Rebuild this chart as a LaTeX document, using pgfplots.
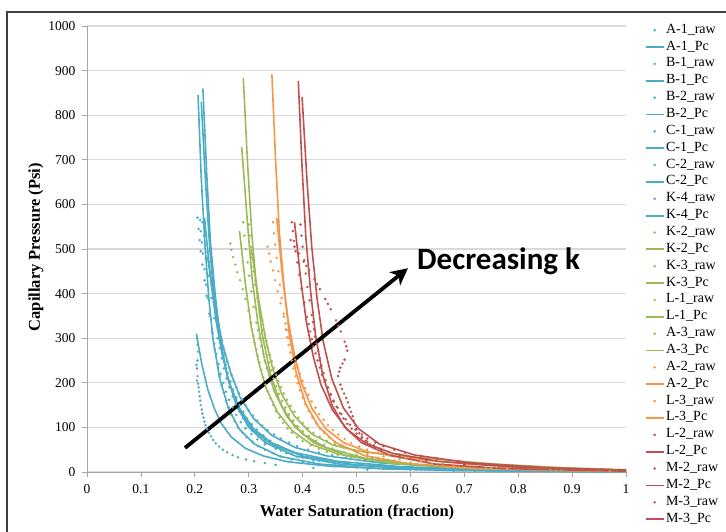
\documentclass[border=0pt]{standalone}
\usepackage{pgfplots}
\pgfplotsset{compat=1.18}
\usepackage{fontspec}
\setmainfont{Liberation Serif}
\newfontfamily\calibri{Carlito}
\usetikzlibrary{arrows.meta}
\definecolor{cblue}{HTML}{4BACC6}
\definecolor{cgreen}{HTML}{9BBB59}
\definecolor{corange}{HTML}{F79646}
\definecolor{cred}{HTML}{C0504D}
\pgfplotsset{
  raw/.style={only marks, mark=*, mark size=1.05pt, color=#1, draw=#1, fill=#1},
  pc/.style={line width=1.6pt, mark=none, color=#1, draw=#1,
    legend image code/.code={\draw[draw=#1, line width=1.8pt] (0pt,0pt) -- (18pt,0pt);}},
}
\begin{document}
\begin{tikzpicture}
\useasboundingbox (0pt,0pt) rectangle (726pt,-532pt);
\begin{axis}[
  at={(87pt,-472pt)}, anchor=south west,
  scale only axis, width=539pt, height=446pt,
  xmin=0, xmax=1, ymin=0, ymax=1000,
  axis x line*=bottom, axis y line*=left,
  axis line style={black!35, line width=1pt, -},
  xtick={0,0.1,0.2,0.3,0.4,0.5,0.6,0.7,0.8,0.9,1},
  xticklabels={0,0.1,0.2,0.3,0.4,0.5,0.6,0.7,0.8,0.9,1},
  ytick={0,100,200,300,400,500,600,700,800,900,1000},
  yticklabels={0,100,200,300,400,500,600,700,800,900,1000},
  tick align=outside, major tick length=5pt,
  tick style={black!35, line width=0.8pt},
  ymajorgrids, grid style={black!15, line width=1.2pt},
  ticklabel style={font=\fontsize{13.5}{14}\selectfont},
  xticklabel style={yshift=-4pt},
  yticklabel style={xshift=-3pt},
  xlabel={\textbf{Water Saturation (fraction)}},
  ylabel={\textbf{Capillary Pressure (Psi)}},
  label style={font=\fontsize{16.5}{18}\selectfont},
  xlabel style={at={(axis description cs:0.501,-0.0897)}, anchor=center},
  ylabel style={at={(axis description cs:-0.0946,0.504)}, anchor=center},
  legend cell align=left,
  legend style={at={(axis description cs:1.0353,1.0045)}, anchor=north west,
    draw=none, fill=none, inner sep=0pt, row sep=4.86pt, column sep=1pt,
    font=\fontsize{14}{14}\selectfont,
    nodes={inner sep=0pt, text height=9pt, text depth=3pt}},
]
% ---------------- blue group ----------------
\addplot[raw=cblue] coordinates {(0.210,565)(0.211,540)(0.213,515)(0.215,490)(0.218,455)(0.221,420)(0.224,390)(0.228,350)(0.232,315)(0.237,275)(0.243,235)(0.250,195)(0.258,160)(0.268,128)(0.280,100)(0.296,78)(0.318,58)(0.345,42)(0.38,28)(0.43,17)(0.50,10)(0.60,5)(0.72,2.5)(0.85,1)
 (0.246,215)(0.254,178)(0.263,144)(0.274,114)(0.288,89)(0.307,68)(0.33,50)(0.36,35)(0.40,22)(0.46,13)(0.55,7)};
\addlegendentry{A-1\_raw}
\addplot[pc=cblue] coordinates {(0.206,845)(0.212,659)(0.219,507)(0.226,389)(0.234,296)(0.246,211)(0.262,144)(0.282,97)(0.310,63)(0.358,35)(0.430,18)(0.542,7.6)(0.686,3.4)(1.0,0.5)};
\addlegendentry{A-1\_Pc}
\addplot[raw=cblue] coordinates {(0.214,560)(0.217,530)(0.222,480)(0.226,440)(0.231,390)(0.236,345)(0.242,300)(0.250,255)(0.259,210)(0.270,170)(0.283,135)(0.298,105)(0.318,80)(0.345,58)(0.38,40)(0.43,25)(0.50,15)(0.62,7)(0.78,3)(0.92,1)
 (0.246,278)(0.254,232)(0.264,190)(0.276,152)(0.29,120)(0.307,92)(0.33,68)(0.36,48)(0.40,32)(0.46,20)(0.56,10)};
\addlegendentry{B-1\_raw}
\addplot[pc=cblue] coordinates {(0.212,830)(0.220,647)(0.228,498)(0.237,382)(0.247,291)(0.262,208)(0.282,141)(0.307,95)(0.342,62)(0.402,35)(0.492,17)(0.632,7.5)(0.812,3.3)(1.0,0.5)};
\addlegendentry{B-1\_Pc}
\addplot[raw=cblue] coordinates {(0.205,570)(0.207,545)(0.209,520)(0.211,495)(0.214,465)(0.218,430)(0.222,395)(0.227,355)(0.233,310)(0.240,265)(0.248,220)(0.258,180)(0.270,145)(0.285,112)(0.305,85)(0.33,62)(0.37,42)(0.42,26)(0.50,14)(0.62,6)(0.80,2)
 (0.236,288)(0.244,242)(0.253,200)(0.264,162)(0.277,128)(0.294,98)(0.316,73)(0.35,52)(0.39,34)(0.46,19)(0.56,9)};
\addlegendentry{B-2\_raw}
\addplot[pc=cblue] coordinates {(0.215,860)(0.222,671)(0.229,516)(0.238,396)(0.247,301)(0.260,215)(0.278,146)(0.301,99)(0.332,65)(0.386,36)(0.467,18)(0.593,7.7)(0.755,3.4)(1.0,0.5)};
\addlegendentry{B-2\_Pc}
\addplot[raw=cblue] coordinates {(0.204,300)(0.205,285)(0.206,270)(0.205,250)(0.204,232)(0.205,215)(0.206,198)(0.208,180)(0.210,160)(0.213,140)(0.216,122)(0.220,105)(0.226,88)(0.234,72)(0.245,57)(0.26,44)(0.28,33)(0.31,24)(0.35,16)(0.42,9)(0.52,5)(0.68,2)
 (0.203,240)(0.204,205)(0.207,190)(0.209,170)(0.211,150)(0.214,131)(0.218,113)(0.223,96)(0.230,80)(0.239,64)(0.252,50)(0.27,38)(0.295,28)(0.33,20)};
\addlegendentry{C-1\_raw}
\addplot[pc=cblue] coordinates {(0.203,310)(0.213,242)(0.224,186)(0.236,143)(0.249,109)(0.268,78)(0.294,53)(0.327,36)(0.372,23)(0.450,13)(0.567,6.5)(0.749,2.8)(1.0,1)};
\addlegendentry{C-1\_Pc}
\addplot[raw=cblue] coordinates {(0.219,560)(0.221,530)(0.224,495)(0.227,460)(0.231,420)(0.235,380)(0.240,340)(0.246,300)(0.253,260)(0.261,222)(0.271,185)(0.283,150)(0.297,120)(0.315,95)(0.34,70)(0.37,50)(0.41,35)(0.47,23)(0.55,14)(0.66,7)(0.80,3)(0.95,1)
 (0.243,320)(0.249,280)(0.257,240)(0.266,203)(0.277,167)(0.29,135)(0.306,107)(0.327,82)(0.355,60)(0.39,42)(0.44,29)(0.51,18)};
\addlegendentry{C-2\_raw}
\addplot[pc=cblue] coordinates {(0.218,570)(0.228,445)(0.239,342)(0.251,262)(0.264,200)(0.283,143)(0.309,97)(0.342,66)(0.387,43)(0.465,24)(0.582,12)(0.764,5.1)(1.0,2)};
\addlegendentry{C-2\_Pc}
\addplot[raw=cblue] coordinates {(0.226,470)(0.229,445)(0.233,410)(0.237,378)(0.242,345)(0.247,312)(0.253,280)(0.260,248)(0.268,218)(0.277,190)(0.288,162)(0.300,138)(0.316,115)(0.335,94)(0.36,75)(0.39,58)(0.43,44)(0.48,32)(0.55,22)(0.64,15)(0.75,9)(0.88,5)(0.98,2)
 (0.245,328)(0.250,296)(0.256,264)(0.264,233)(0.272,204)(0.282,176)(0.294,150)(0.308,126)(0.325,104)(0.347,84)(0.375,66)(0.41,50)(0.455,38)(0.515,27)(0.6,18)};
\addlegendentry{K-4\_raw}
\addplot[pc=cblue] coordinates {(0.224,480)(0.238,374)(0.251,288)(0.267,221)(0.284,168)(0.309,120)(0.343,82)(0.386,55)(0.445,36)(0.547,20)(0.700,10)(0.938,4.3)(1.0,3.5)};
\addlegendentry{K-4\_Pc}
% ---------------- green group ----------------
\addplot[raw=cgreen] coordinates {(0.300,555)(0.302,530)(0.304,505)(0.306,480)(0.309,450)(0.312,420)(0.316,390)(0.320,355)(0.325,318)(0.331,280)(0.338,245)(0.346,210)(0.356,175)(0.368,145)(0.383,115)(0.40,90)(0.42,70)(0.45,52)(0.49,37)(0.55,25)(0.63,15)(0.74,8)(0.86,4)(0.97,1.5)
 (0.328,300)(0.334,262)(0.342,228)(0.351,192)(0.362,160)(0.375,130)(0.391,102)(0.41,80)(0.435,60)(0.47,44)(0.52,31)(0.59,20)};
\addlegendentry{K-2\_raw}
\addplot[pc=cgreen] coordinates {(0.290,883)(0.298,689)(0.306,530)(0.315,406)(0.325,309)(0.340,221)(0.360,150)(0.385,102)(0.420,66)(0.480,37)(0.570,18.5)(0.710,7.9)(0.890,3.5)(1.0,1)};
\addlegendentry{K-2\_Pc}
\addplot[raw=cgreen] coordinates {(0.290,560)(0.292,530)(0.295,500)(0.298,470)(0.301,440)(0.305,405)(0.309,370)(0.314,335)(0.320,300)(0.327,265)(0.334,232)(0.343,200)(0.354,168)(0.367,140)(0.382,115)(0.40,92)(0.425,70)(0.455,53)(0.50,38)(0.56,26)(0.64,16)(0.75,9)(0.88,4)
 (0.317,318)(0.323,282)(0.330,248)(0.338,216)(0.348,184)(0.36,154)(0.374,127)(0.39,103)(0.412,80)(0.44,61)(0.477,45)(0.53,32)(0.6,20)};
\addlegendentry{K-3\_raw}
\addplot[pc=cgreen] coordinates {(0.287,729)(0.297,569)(0.306,437)(0.317,335)(0.329,255)(0.347,182)(0.371,124)(0.401,84)(0.443,55)(0.515,31)(0.623,15)(0.791,6.6)(1.0,2.9)};
\addlegendentry{K-3\_Pc}
\addplot[raw=cgreen] coordinates {(0.266,512)(0.268,498)(0.271,482)(0.275,465)(0.279,448)(0.284,430)(0.289,410)(0.294,388)(0.299,362)(0.304,335)(0.309,305)(0.314,275)(0.320,245)(0.327,212)(0.335,180)(0.345,150)(0.357,122)(0.372,98)(0.39,78)(0.415,60)(0.445,45)(0.49,32)(0.55,21)(0.63,13)(0.74,7)(0.87,3)
 (0.306,320)(0.311,290)(0.317,260)(0.323,228)(0.331,196)(0.34,165)(0.351,136)(0.364,110)(0.38,88)(0.40,69)(0.43,52)(0.465,38)(0.52,26)};
\addlegendentry{L-1\_raw}
\addplot[pc=cgreen] coordinates {(0.283,540)(0.294,421)(0.305,324)(0.318,248)(0.332,189)(0.353,135)(0.381,92)(0.416,62)(0.465,40.5)(0.549,22.7)(0.675,11.3)(0.871,4.9)(1.0,3)};
\addlegendentry{L-1\_Pc}
\addplot[raw=cgreen] coordinates {(0.306,490)(0.309,460)(0.312,430)(0.316,400)(0.320,370)(0.325,340)(0.330,310)(0.336,278)(0.343,248)(0.351,218)(0.360,190)(0.371,162)(0.385,135)(0.40,110)(0.42,88)(0.445,70)(0.475,55)(0.52,41)(0.58,29)(0.66,19)(0.76,11)(0.88,6)(0.98,3)
 (0.333,294)(0.339,263)(0.347,233)(0.355,204)(0.365,176)(0.378,148)(0.392,122)(0.41,99)(0.432,79)(0.46,62)(0.497,48)(0.55,35)(0.62,24)};
\addlegendentry{A-3\_raw}
\addplot[pc=cgreen] coordinates {(0.305,500)(0.318,390)(0.331,300)(0.345,230)(0.361,175)(0.385,125)(0.417,85)(0.457,60)(0.513,45)(0.609,33)(0.753,18)(0.877,10)(1.0,5)};
\addlegendentry{A-3\_Pc}
% ---------------- orange group ----------------
\addplot[raw=corange] coordinates {(0.345,560)(0.347,535)(0.349,510)(0.352,480)(0.355,450)(0.358,420)(0.361,390)(0.365,355)(0.369,320)(0.374,285)(0.380,250)(0.387,215)(0.395,183)(0.405,152)(0.418,122)(0.432,97)(0.45,77)(0.47,60)(0.50,45)(0.54,32)(0.60,21)(0.68,13)(0.78,7)(0.90,3)
 (0.371,302)(0.377,268)(0.383,232)(0.391,199)(0.40,167)(0.411,137)(0.425,109)(0.44,87)(0.46,68)(0.485,52)(0.52,38)(0.57,26)(0.64,17)};
\addlegendentry{A-2\_raw}
\addplot[pc=corange] coordinates {(0.343,892)(0.350,696)(0.357,535)(0.366,410)(0.375,312)(0.388,223)(0.406,152)(0.429,103)(0.460,67)(0.514,37)(0.595,19)(0.721,8)(0.883,3.6)(1.0,1)};
\addlegendentry{A-2\_Pc}
\addplot[raw=corange] coordinates {(0.335,505)(0.338,490)(0.341,472)(0.345,452)(0.349,430)(0.354,405)(0.359,378)(0.365,348)(0.371,318)(0.378,285)(0.386,252)(0.395,220)(0.405,188)(0.417,158)(0.431,130)(0.447,105)(0.466,84)(0.49,65)(0.52,50)(0.56,37)(0.62,25)(0.70,15)(0.80,8)(0.92,3)
 (0.368,333)(0.374,301)(0.382,268)(0.39,236)(0.40,204)(0.411,173)(0.424,144)(0.439,117)(0.456,94)(0.478,74)(0.505,57)(0.54,43)(0.59,31)};
\addlegendentry{L-3\_raw}
\addplot[pc=corange] coordinates {(0.352,570)(0.362,445)(0.373,342)(0.385,262)(0.398,200)(0.417,143)(0.443,97)(0.476,66)(0.521,45)(0.599,30)(0.716,17)(0.898,7)(1.0,4)};
\addlegendentry{L-3\_Pc}
% ---------------- red group ----------------
\addplot[raw=cred] coordinates {(0.396,555)(0.398,530)(0.400,505)(0.403,475)(0.406,445)(0.409,415)(0.413,385)(0.417,352)(0.421,320)(0.426,288)(0.432,255)(0.439,222)(0.447,190)(0.457,160)(0.469,132)(0.483,108)(0.50,86)(0.52,68)(0.545,52)(0.58,39)(0.63,27)(0.70,17)(0.79,10)(0.90,5)(0.99,2)
 (0.419,336)(0.423,304)(0.429,271)(0.435,238)(0.443,206)(0.452,175)(0.463,146)(0.476,120)(0.491,97)(0.51,77)(0.532,60)(0.56,45)(0.6,33)};
\addlegendentry{L-2\_raw}
\addplot[pc=cred] coordinates {(0.392,877)(0.399,684)(0.406,526)(0.415,403)(0.424,307)(0.437,219)(0.455,149)(0.478,101)(0.509,66)(0.563,37)(0.644,18)(0.770,7.9)(0.932,3.5)(1.0,2)};
\addlegendentry{L-2\_Pc}
\addplot[raw=cred] coordinates {(0.380,560)(0.382,540)(0.384,518)(0.387,495)(0.390,470)(0.394,442)(0.398,412)(0.403,380)(0.408,348)(0.414,315)(0.420,282)(0.428,250)(0.436,218)(0.446,188)(0.458,158)(0.472,130)(0.488,106)(0.51,84)(0.535,66)(0.57,50)(0.62,36)(0.69,24)(0.78,14)(0.88,7)(0.98,3)
 (0.411,332)(0.417,298)(0.424,266)(0.432,234)(0.441,203)(0.452,173)(0.465,144)(0.48,118)(0.498,95)(0.52,75)(0.55,58)(0.59,43)(0.65,30)};
\addlegendentry{M-2\_raw}
\addplot[pc=cred] coordinates {(0.399,841)(0.408,656)(0.417,505)(0.427,387)(0.438,294)(0.454,210)(0.476,143)(0.504,97)(0.542,63)(0.608,38)(0.707,21)(0.861,9)(1.0,4)};
\addlegendentry{M-2\_Pc}
\addplot[raw=cred] coordinates {(0.378,520)(0.385,505)(0.393,490)(0.402,472)(0.412,452)(0.422,432)(0.432,410)(0.442,388)(0.452,365)(0.462,340)(0.471,315)(0.478,292)(0.483,272)(0.478,252)(0.470,234)(0.466,215)(0.470,196)(0.477,176)(0.484,156)(0.490,135)(0.495,115)(0.50,96)(0.51,78)(0.525,62)(0.545,48)(0.58,36)(0.63,25)(0.70,16)(0.80,9)(0.92,4)
 (0.407,462)(0.427,421)(0.447,377)(0.466,328)(0.481,282)(0.474,243)(0.468,225)(0.473,186)(0.481,166)(0.487,145)(0.493,125)(0.498,105)(0.505,87)(0.517,70)(0.535,55)};
\addlegendentry{M-3\_raw}
\addplot[pc=cred] coordinates {(0.385,560)(0.396,437)(0.407,336)(0.420,258)(0.434,196)(0.455,140)(0.483,95)(0.518,64)(0.567,42)(0.651,24)(0.777,12)(0.973,5)(1.0,4.5)};
\addlegendentry{M-3\_Pc}
% annotation
\draw[line width=3.8pt, black, -{Stealth[length=17pt, width=17pt, inset=5pt]}]
  (axis cs:0.1818,54) -- (axis cs:0.5955,457);
\node[anchor=base west, inner sep=0pt, font=\calibri\bfseries\fontsize{31}{34}\selectfont]
  at (axis cs:0.6122,455) {Decreasing k};
\end{axis}
\draw[line width=1.5pt, black!75] (7pt,-532pt) -- (7pt,-12pt) -- (726pt,-12pt);
\end{tikzpicture}
\end{document}
